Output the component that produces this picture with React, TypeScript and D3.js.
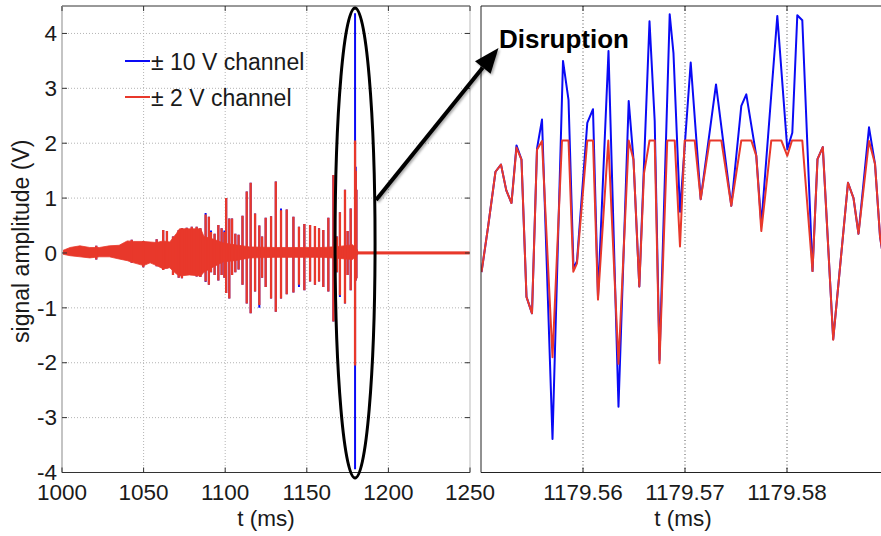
import React from "react";
import * as d3 from "d3";

const WIDTH = 881;
const HEIGHT = 536;
const FONT = "'Liberation Sans', Arial, Helvetica, sans-serif";
const RED = "#e8382b";
const BLUE = "#0a0af5";
const TICK_FONT = 22.5;

// ---------- overview: the whole burst ----------
const overviewTicks = [1000, 1050, 1100, 1150, 1200, 1250];
const amplitudeTicks = [-4, -3, -2, -1, 0, 1, 2, 3, 4];

// continuous oscillation band: upper / lower envelope (V)
const bandTimes = [1000, 1005, 1011, 1017, 1023, 1029, 1035, 1040, 1044, 1050, 1054, 1058, 1062, 1066, 1070, 1072, 1078, 1085, 1087, 1093, 1099, 1106, 1115, 1130, 1145, 1160, 1170, 1178, 1180.5, 1181.5, 1250];
const bandHigh = [0.04, 0.10, 0.13, 0.10, 0.10, 0.13, 0.14, 0.22, 0.21, 0.21, 0.20, 0.19, 0.22, 0.20, 0.35, 0.44, 0.44, 0.44, 0.30, 0.25, 0.18, 0.15, 0.11, 0.10, 0.10, 0.10, 0.12, 0.15, 0.08, 0.02, 0.02];
const bandLow = [-0.02, -0.05, -0.07, -0.09, -0.07, -0.07, -0.11, -0.14, -0.18, -0.23, -0.18, -0.23, -0.29, -0.27, -0.38, -0.42, -0.40, -0.42, -0.35, -0.25, -0.16, -0.14, -0.09, -0.08, -0.08, -0.08, -0.10, -0.12, -0.05, -0.02, -0.02];

// individual bursts: extremes on each channel (V)
const burstTimes = [1021.0, 1042.7, 1049.8, 1058.0, 1062.0, 1064.3, 1068.0, 1071.5, 1073.5, 1076.4, 1079.5, 1082.5, 1084.8, 1088.0, 1090.0, 1091.3, 1093.5, 1095.8, 1097.8, 1099.5, 1100.6, 1102.5, 1104.2, 1106.2, 1108.2, 1110.6, 1113.2, 1115.6, 1118.3, 1120.9, 1122.6, 1124.8, 1128.1, 1131.0, 1134.2, 1137.7, 1141.8, 1145.2, 1148.5, 1152.0, 1155.0, 1157.5, 1160.1, 1163.2, 1166.3, 1168.5, 1170.3, 1173.4, 1175.0, 1176.9, 1179.57, 1180.0, 1180.4];
const burstHigh2V = [0.13, 0.24, 0.22, 0.25, 0.42, 0.40, 0.30, 0.42, 0.45, 0.46, 0.48, 0.48, 0.45, 0.70, 0.66, 0.38, 0.35, 0.51, 0.45, 0.38, 1.00, 0.63, 0.63, 0.35, 0.33, 0.68, 1.12, 1.28, 0.72, 0.50, 0.30, 0.64, 0.67, 1.30, 0.78, 0.79, 0.66, 0.48, 0.53, 0.51, 0.49, 0.45, 0.42, 0.64, 1.42, 0.30, 0.74, 1.15, 0.40, 0.81, 2.05, 1.50, 1.15];
const burstLow2V = [-0.12, -0.18, -0.26, -0.24, -0.31, -0.28, -0.40, -0.45, -0.46, -0.40, -0.36, -0.43, -0.44, -0.52, -0.58, -0.35, -0.40, -0.50, -0.40, -0.45, -0.73, -0.83, -0.40, -0.35, -0.30, -0.58, -0.92, -1.10, -0.70, -0.95, -0.45, -0.62, -0.83, -1.07, -0.83, -0.75, -0.72, -0.58, -0.68, -0.52, -0.58, -0.52, -0.62, -0.70, -1.25, -0.35, -0.77, -0.92, -0.40, -0.68, -2.05, -0.50, -0.46];
const burstHigh10V = [0.13, 0.24, 0.22, 0.25, 0.42, 0.40, 0.30, 0.42, 0.45, 0.46, 0.48, 0.48, 0.45, 0.73, 0.66, 0.41, 0.35, 0.51, 0.45, 0.41, 1.00, 0.63, 0.63, 0.35, 0.33, 0.68, 1.12, 1.28, 0.72, 0.50, 0.30, 0.64, 0.67, 1.30, 0.81, 0.79, 0.66, 0.48, 0.53, 0.51, 0.49, 0.45, 0.42, 0.64, 1.42, 0.30, 0.74, 1.15, 0.40, 0.81, 4.37, 1.57, 1.15];
const burstLow10V = [-0.12, -0.18, -0.26, -0.24, -0.31, -0.28, -0.40, -0.45, -0.46, -0.40, -0.36, -0.43, -0.44, -0.53, -0.58, -0.35, -0.40, -0.50, -0.40, -0.45, -0.73, -0.83, -0.40, -0.35, -0.30, -0.58, -0.92, -1.10, -0.70, -1.00, -0.45, -0.62, -0.83, -1.07, -0.83, -0.75, -0.72, -0.62, -0.68, -0.52, -0.58, -0.52, -0.62, -0.70, -1.25, -0.35, -0.80, -0.92, -0.40, -0.68, -3.94, -0.50, -0.46];

// ---------- detail: around the disruption ----------
const detailDomain = [1179.55, 1179.59];
const detailTicks = [1179.56, 1179.57, 1179.58];

const tenVTimes = [1179.55005, 1179.55069, 1179.55142, 1179.55196, 1179.55248, 1179.55299, 1179.55348, 1179.55397, 1179.55446, 1179.555, 1179.55549, 1179.55598, 1179.55701, 1179.55804, 1179.55858, 1179.55907, 1179.55941, 1179.56042, 1179.56098, 1179.56147, 1179.5625, 1179.56348, 1179.56448, 1179.56495, 1179.56552, 1179.56652, 1179.56703, 1179.5675, 1179.5685, 1179.56887, 1179.56951, 1179.57056, 1179.57154, 1179.57304, 1179.57454, 1179.57552, 1179.57601, 1179.57699, 1179.57748, 1179.57905, 1179.58003, 1179.58052, 1179.58101, 1179.5815, 1179.5825, 1179.58299, 1179.58351, 1179.58453, 1179.58598, 1179.58652, 1179.58701, 1179.58804, 1179.58863, 1179.58912, 1179.58961];
const tenVValues = [-0.35, 0.47, 1.48, 1.61, 1.14, 0.91, 1.96, 1.70, -0.80, -1.10, 1.90, 2.43, -3.39, 3.50, 2.79, -0.28, -0.15, 2.37, 2.62, -0.80, 3.68, -2.80, 2.77, 1.70, -0.61, 4.22, 2.40, -1.95, 4.35, 3.64, 0.75, 3.47, 0.98, 3.07, 0.86, 2.68, 2.89, 1.77, 0.52, 4.32, 1.89, 2.19, 4.33, 4.24, -0.33, 1.71, 1.93, -1.57, 1.28, 1.00, 0.35, 2.29, 1.62, 0.30, -0.30];

const twoVTimes = [1179.55005, 1179.55069, 1179.55142, 1179.55196, 1179.55248, 1179.55299, 1179.55348, 1179.55397, 1179.55446, 1179.555, 1179.55549, 1179.55598, 1179.55701, 1179.55794, 1179.55858, 1179.55905, 1179.55941, 1179.56042, 1179.56098, 1179.56147, 1179.56248, 1179.56348, 1179.56448, 1179.56495, 1179.56552, 1179.56598, 1179.56652, 1179.56703, 1179.5675, 1179.56826, 1179.56899, 1179.56951, 1179.56997, 1179.57095, 1179.57154, 1179.57242, 1179.57356, 1179.57454, 1179.57552, 1179.5765, 1179.57699, 1179.57748, 1179.57846, 1179.57944, 1179.58003, 1179.58049, 1179.5815, 1179.5825, 1179.58299, 1179.58351, 1179.58453, 1179.58598, 1179.58652, 1179.58701, 1179.58804, 1179.58863, 1179.58912, 1179.58961];
const twoVValues = [-0.35, 0.47, 1.48, 1.61, 1.14, 0.91, 1.92, 1.70, -0.80, -1.10, 1.88, 2.04, -1.90, 2.05, 2.05, -0.34, -0.19, 2.05, 2.05, -0.85, 2.05, -2.02, 2.05, 1.70, -0.61, 1.45, 2.05, 2.05, -2.01, 2.05, 2.05, 0.12, 2.05, 2.05, 0.98, 2.05, 2.05, 0.86, 2.05, 2.05, 1.77, 0.40, 2.05, 2.05, 1.77, 2.05, 2.05, -0.33, 1.71, 1.93, -1.58, 1.28, 1.00, 0.35, 2.04, 1.62, 0.30, -0.30];

const legendLabels = ["\u00b1 10 V channel", "\u00b1 2 V channel"];

// panel frames
const left = { x0: 62, x1: 470, y0: 6, y1: 472.5 };
const right = { x0: 481, x1: 889, y0: 6, y1: 472.5 };

export default function App() {
  const xO = d3.scaleLinear().domain([1000, 1250]).range([left.x0, left.x1]);
  const y = d3.scaleLinear().domain([-4, 4.5]).range([left.y1, left.y0]);
  const xD = d3.scaleLinear().domain(detailDomain).range([right.x0, right.x1]);

  const band = d3
    .area<number>()
    .x((i) => xO(bandTimes[i]))
    .y0((i) => y(bandLow[i]))
    .y1((i) => y(bandHigh[i]))(bandTimes.map((_, i) => i)) as string;

  const lineFor = (times: number[], values: number[]) =>
    d3
      .line<number>()
      .x((i) => xD(times[i]))
      .y((i) => y(values[i]))(times.map((_, i) => i)) as string;

  const tenPath = lineFor(tenVTimes, tenVValues);
  const twoPath = lineFor(twoVTimes, twoVValues);

  const tickLen = 5;
  const spikeCx = xO(1179.57);

  // annotation geometry
  const arrowFrom = [376, 200];
  const arrowTip = [498.5, 48];
  const dx = arrowTip[0] - arrowFrom[0];
  const dy = arrowTip[1] - arrowFrom[1];
  const len = Math.hypot(dx, dy);
  const ux = dx / len, uy = dy / len;
  const headLen = 25, headHalf = 10;
  const base = [arrowTip[0] - ux * headLen, arrowTip[1] - uy * headLen];
  const head = [
    arrowTip,
    [base[0] - uy * headHalf, base[1] + ux * headHalf],
    [base[0] + uy * headHalf, base[1] - ux * headHalf],
  ]
    .map((p) => p.join(","))
    .join(" ");

  return (
    <svg
      width={WIDTH}
      height={HEIGHT}
      style={{ position: "absolute", left: 0, top: 0, background: "#fff" }}
      fontFamily={FONT}
    >
      <defs>
        <clipPath id="clipL">
          <rect x={left.x0} y={left.y0} width={left.x1 - left.x0} height={left.y1 - left.y0} />
        </clipPath>
        <clipPath id="clipR">
          <rect x={right.x0} y={right.y0} width={right.x1 - right.x0} height={right.y1 - right.y0} />
        </clipPath>
        <filter id="shadow" x="-20%" y="-20%" width="140%" height="140%">
          <feDropShadow dx="1.5" dy="1.5" stdDeviation="1.2" floodColor="#000" floodOpacity="0.35" />
        </filter>
      </defs>
      <rect x={0} y={0} width={WIDTH} height={HEIGHT} fill="#fff" />

      {/* ---------- overview panel ---------- */}
      <g>
        {overviewTicks.slice(1, -1).map((t) => (
          <line key={"gx" + t} x1={xO(t)} x2={xO(t)} y1={left.y0} y2={left.y1} stroke="#b4b4b4" strokeDasharray="1,2" />
        ))}
        {amplitudeTicks.slice(1).map((v) => (
          <line key={"gy" + v} x1={left.x0} x2={left.x1} y1={y(v)} y2={y(v)} stroke="#b4b4b4" strokeDasharray="1,2" />
        ))}

        <g clipPath="url(#clipL)">
          {burstTimes.map((t, i) => (
            <line key={"b10" + i} x1={xO(t)} x2={xO(t)} y1={y(burstLow10V[i])} y2={y(burstHigh10V[i])} stroke={BLUE} strokeWidth={2} />
          ))}
          <path d={band} fill={RED} stroke={RED} strokeWidth={0.8} />
          {burstTimes.map((t, i) => (
            <line key={"b2" + i} x1={xO(t)} x2={xO(t)} y1={y(burstLow2V[i])} y2={y(burstHigh2V[i])} stroke={RED} strokeWidth={2.3} />
          ))}
        </g>

        {/* frame */}
        <line x1={left.x0} x2={left.x1} y1={left.y0} y2={left.y0} stroke="#333" />
        <line x1={left.x0} x2={left.x1} y1={left.y1} y2={left.y1} stroke="#333" />
        <line x1={left.x0} x2={left.x0} y1={left.y0} y2={left.y1} stroke="#c4c4c4" strokeWidth={2} />
        <line x1={left.x1} x2={left.x1} y1={left.y0} y2={left.y1} stroke="#bbb" />

        {overviewTicks.map((t) => (
          <g key={"tx" + t}>
            <line x1={xO(t)} x2={xO(t)} y1={left.y1} y2={left.y1 - tickLen} stroke="#333" />
            <line x1={xO(t)} x2={xO(t)} y1={left.y0} y2={left.y0 + tickLen} stroke="#333" />
            {t < 1250 && (
              <text x={xO(t)} y={500} textAnchor="middle" fontSize={TICK_FONT} fill="#1a1a1a">
                {t}
              </text>
            )}
          </g>
        ))}
        {amplitudeTicks.map((v) => (
          <g key={"ty" + v}>
            <line x1={left.x0} x2={left.x0 + tickLen} y1={y(v)} y2={y(v)} stroke="#333" />
            <line x1={left.x1} x2={left.x1 - tickLen} y1={y(v)} y2={y(v)} stroke="#333" />
            <text x={57} y={y(v)} dy="0.34em" textAnchor="end" fontSize={TICK_FONT} fill="#1a1a1a">
              {v}
            </text>
          </g>
        ))}
        <text x={(left.x0 + left.x1) / 2} y={526} textAnchor="middle" fontSize={TICK_FONT} fill="#1a1a1a">
          t (ms)
        </text>
        <text
          transform={`translate(29,${(left.y0 + left.y1) / 2 + 2}) rotate(-90)`}
          textAnchor="middle"
          fontSize={23}
          fill="#1a1a1a"
        >
          signal amplitude (V)
        </text>

        {/* legend */}
        {legendLabels.map((label, i) => (
          <g key={label}>
            <line x1={125} x2={150} y1={61 + i * 36} y2={61 + i * 36} stroke={i === 0 ? BLUE : RED} strokeWidth={2} />
            <text x={151} y={69.5 + i * 36} fontSize={23} fill="#1a1a1a">
              {label}
            </text>
          </g>
        ))}
      </g>

      {/* ---------- detail panel ---------- */}
      <g>
        <rect x={right.x0} y={right.y0} width={right.x1 - right.x0} height={right.y1 - right.y0} fill="#fff" />
        {detailTicks.map((t) => (
          <line key={"dg" + t} x1={xD(t)} x2={xD(t)} y1={right.y0} y2={right.y1} stroke="#555" strokeDasharray="1,2.5" />
        ))}
        <g clipPath="url(#clipR)">
          <path d={tenPath} fill="none" stroke={BLUE} strokeWidth={2} strokeLinejoin="round" />
          <path d={twoPath} fill="none" stroke={RED} strokeWidth={2} strokeLinejoin="round" />
        </g>
        <line x1={right.x0} x2={right.x1} y1={right.y0} y2={right.y0} stroke="#222" />
        <line x1={right.x0} x2={right.x1} y1={right.y1} y2={right.y1} stroke="#222" />
        <line x1={right.x0} x2={right.x0} y1={right.y0} y2={right.y1} stroke="#222" />
        {detailTicks.map((t) => (
          <g key={"dt" + t}>
            <line x1={xD(t)} x2={xD(t)} y1={right.y1} y2={right.y1 - tickLen} stroke="#222" />
            <line x1={xD(t)} x2={xD(t)} y1={right.y0} y2={right.y0 + tickLen} stroke="#222" />
            <text x={xD(t)} y={500} textAnchor="middle" fontSize={TICK_FONT} fill="#1a1a1a">
              {t.toFixed(2)}
            </text>
          </g>
        ))}
        <text x={(right.x0 + right.x1) / 2 - 2} y={526} textAnchor="middle" fontSize={TICK_FONT} fill="#1a1a1a">
          t (ms)
        </text>
      </g>

      {/* last overview label runs into the gap between the panels */}
      <text x={xO(1250)} y={500} textAnchor="middle" fontSize={TICK_FONT} fill="#1a1a1a">
        1250
      </text>

      {/* ---------- annotation ---------- */}
      <ellipse cx={spikeCx} cy={243} rx={20} ry={235} fill="none" stroke="#000" strokeWidth={3} />
      <g filter="url(#shadow)">
        <line x1={arrowFrom[0]} y1={arrowFrom[1]} x2={base[0]} y2={base[1]} stroke="#000" strokeWidth={4} />
        <polygon points={head} fill="#000" />
      </g>
      <text x={499} y={48} fontSize={26} fontWeight="bold" fill="#000">
        Disruption
      </text>
    </svg>
  );
}
